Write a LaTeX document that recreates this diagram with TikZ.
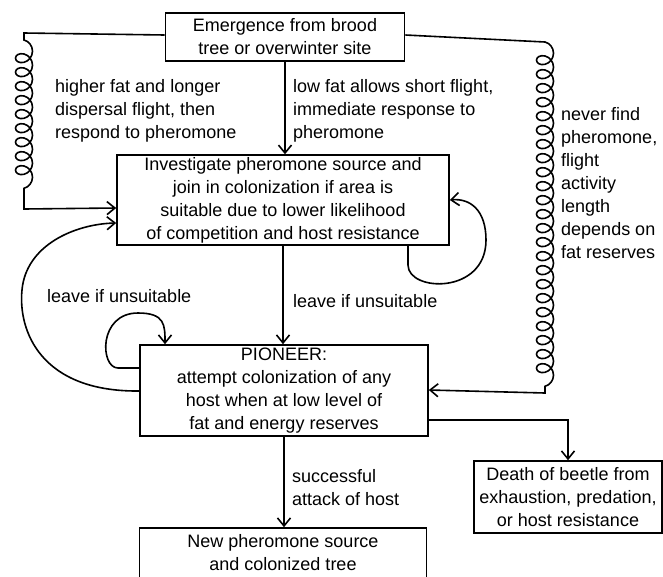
\documentclass[tikz,border=0pt]{standalone}
\usepackage{fontspec}
\setmainfont{Liberation Sans}
\usetikzlibrary{arrows.meta,decorations.pathmorphing}
\tikzset{
  box/.style={rectangle, draw=black, line width=1.6pt, align=center, inner sep=2pt,
              font=\fontsize{18}{23}\selectfont},
  lbl/.style={align=left, inner sep=0pt, anchor=west, font=\fontsize{18}{23}\selectfont},
  flow/.style={-{Straight Barb[length=8pt,width=13pt,line width=1.6pt]}, line width=1.6pt},
  coily/.style={decoration={coil, amplitude=8.5pt, segment length=14pt, aspect=0.9}}
}
\begin{document}
\begin{tikzpicture}[x=1pt, y=-1pt]
   \useasboundingbox (0,0) rectangle (663,576);
   % boxes
   \node[box, minimum width=239pt, minimum height=48pt] (emerg) at (285,37) {Emergence from brood\\tree or overwinter site};
   \node[box, minimum width=332pt, minimum height=88pt] (invest) at (283,200) {Investigate pheromone source and\\join in colonization if area is\\suitable due to lower likelihood\\of competition and host resistance};
   \node[box, minimum width=288pt, minimum height=91pt] (pion) at (284,390.5) {PIONEER:\\attempt colonization of any\\host when at low level of\\fat and energy reserves};
   \node[box, minimum width=287pt, minimum height=50pt] (newsrc) at (283,553) {New pheromone source\\and colonized tree};
   \node[box, minimum width=188pt, minimum height=72pt] (death) at (568,497) {Death of beetle from\\exhaustion, predation,\\or host resistance};
   % labels
   \node[lbl] (hifat) at (55,111) {higher fat and longer\\dispersal flight, then\\respond to pheromone};
   \node[lbl] (lofat) at (293,111) {low fat allows short flight,\\immediate response to\\pheromone};
   \node[lbl] (never) at (561,183) {never find\\pheromone,\\flight\\activity\\length\\depends on\\fat reserves};
   \node[lbl] (leavel) at (47,296) {leave if unsuitable};
   \node[lbl] (leavem) at (293,301) {leave if unsuitable};
   \node[lbl] (succ) at (292,488) {successful\\attack of host};
   % straight flows
   \draw[flow] (emerg.south) -- (emerg.south |- invest.north);
   \draw[flow] (invest.south) -- (invest.south |- pion.north);
   \draw[flow] (pion.south) -- (pion.south |- newsrc.north);
   \draw[flow] (pion.east |- 0,420) -| (death.north);
   % coiled flights
   \draw[flow] (emerg.west |- 0,35) -- (24,33) -- (24,40) decorate[coily]{-- (24,198)} -- (24,209) -- (invest.west |- 0,208);
   \draw[flow] (emerg.east |- 0,35) -- (545,42) decorate[coily]{-- (545,387)} -- (545,393) -- (pion.east |- 0,390);
   % loops
   \draw[flow] (pion.west |- 0,391) .. controls (40,392) and (18,330) .. (22,290) .. controls (26,245) and (75,224) .. (invest.west |- 0,223);
   \draw[flow] (pion.west |- 0,368) -- (118,368) .. controls (100,368) and (98,313) .. (138,313) .. controls (165,313) and (165,325) .. (pion.north -| 165,0);
   \draw[flow] (invest.south -| 408,0) -- (408,265) .. controls (408,292) and (486,295) .. (486,240) .. controls (486,210) and (470,198) .. (invest.east |- 0,200);
\end{tikzpicture}
\end{document}
